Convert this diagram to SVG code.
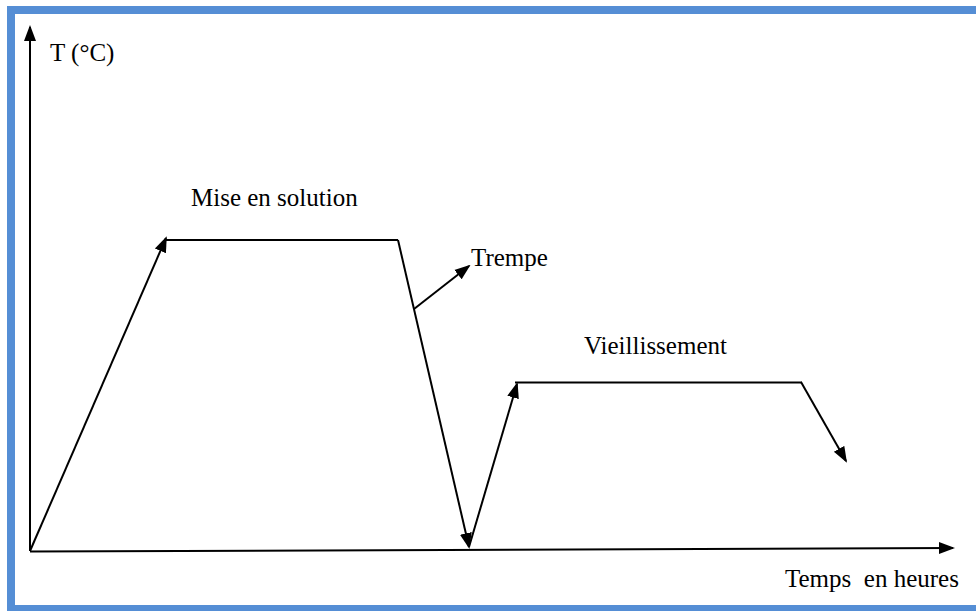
<svg xmlns="http://www.w3.org/2000/svg" width="976" height="611" viewBox="0 0 976 611">
<style>
.ln{fill:none;stroke:#000;stroke-width:2}
.ar{fill:none;stroke:#000;stroke-width:2;marker-end:url(#ah)}
.tx{font-family:"Liberation Serif","Times New Roman",serif;font-size:25px;fill:#000}
</style>
<defs>
<marker id="ah" markerUnits="userSpaceOnUse" markerWidth="16" markerHeight="14" viewBox="0 0 16 14" refX="14" refY="7" orient="auto">
<path d="M0,1 L16,7 L0,13 Z" fill="#000"/>
</marker>
</defs>
<rect width="976" height="611" fill="#fff"/>
<g id="border" fill="none" stroke="#558ED5" stroke-width="8">
<path d="M980,10 L11,10 L11,609 L980,609"/>
</g>
<g id="connectors">
<line class="ar" x1="30" y1="551" x2="30" y2="27"/>
<line class="ar" x1="30" y1="551.5" x2="953" y2="548"/>
<line class="ar" x1="30" y1="551" x2="166" y2="238"/>
<line class="ln" x1="165" y1="240" x2="398" y2="240"/>
<line class="ar" x1="398" y1="240" x2="469" y2="547"/>
<line class="ar" x1="414" y1="309" x2="469" y2="266"/>
<line class="ar" x1="469" y1="547" x2="517" y2="384"/>
<line class="ln" x1="515" y1="382.5" x2="802" y2="382.5"/>
<line class="ar" x1="801" y1="382" x2="846" y2="461"/>
</g>
<g id="label-T"><text class="tx" x="50" y="61">T (°C)</text></g>
<g id="label-mise"><text class="tx" x="191" y="206">Mise en solution</text></g>
<g id="label-trempe"><text class="tx" x="471" y="266">Trempe</text></g>
<g id="label-vieil"><text class="tx" x="584" y="354">Vieillissement</text></g>
<g id="label-temps"><text class="tx" x="785" y="587" xml:space="preserve">Temps  en heures</text></g>
</svg>
